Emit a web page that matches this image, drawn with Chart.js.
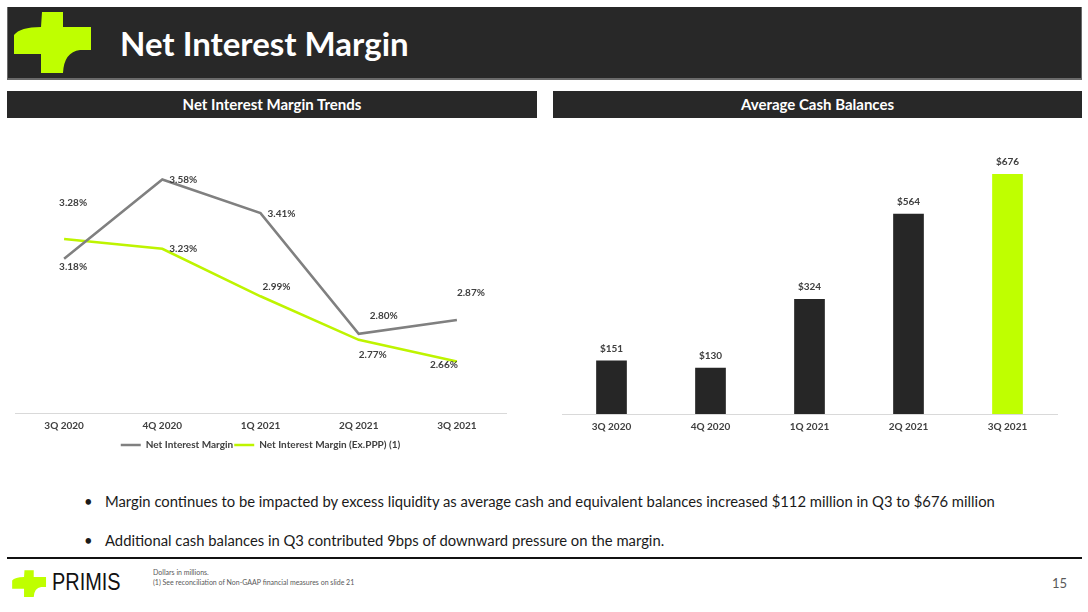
<!DOCTYPE html>
<html>
<head>
<meta charset="utf-8">
<script src="https://cdn.jsdelivr.net/npm/chart.js@4.4.0/dist/chart.umd.min.js"></script>
<style>
body{margin:0;width:1088px;height:612px;position:relative;background:#fff;font-family:Lato,"Open Sans",sans-serif;overflow:hidden}
.hdr{position:absolute;left:7px;top:7px;width:1075px;height:73px;background:#282828;border-left:1px solid #6a6a6a;border-right:1px solid #6a6a6a;border-bottom:2px solid #6a6a6a;box-sizing:border-box}
.ttl{position:absolute;left:120px;top:7px;height:73px;line-height:73px;color:#fff;font-weight:bold;font-size:33px}
.sec{position:absolute;top:91px;height:27px;line-height:27px;background:#282828;color:#fff;font-weight:bold;font-size:15px;text-align:center}
.box{position:absolute}
.bul{position:absolute;left:84px;font-size:14.8px;color:#1a1a1a;white-space:nowrap}
.bul span{display:inline-block;width:21px}
.rule{position:absolute;left:7px;top:557px;width:1075px;height:2px;background:#111}
.brand{position:absolute;left:52px;top:568px;font-family:"Liberation Sans",Arial,sans-serif;font-size:24px;color:#111;transform:scaleX(0.83);transform-origin:left center}
.note{position:absolute;left:153px;font-size:7px;color:#595959}
.pg{position:absolute;left:1052px;top:575px;font-size:13px;color:#595959}
</style>
</head>
<body>
<div class="hdr"></div>
<svg style="position:absolute;left:0;top:0" width="100" height="82">
  <path d="M42,12 L63,12 L63,27 L91,27 L91,50 L80,50 Q64,52 63,73 L41,73 L41,54 L14,54 L14,35 Q20,27 41,27 Z" fill="#bfff00"/>
</svg>
<div class="ttl">Net Interest Margin</div>

<div class="sec" style="left:7px;width:530px">Net Interest Margin Trends</div>
<div class="sec" style="left:553px;width:529px">Average Cash Balances</div>

<div class="box" style="left:7px;top:125px;width:530px;height:335px"><canvas id="nimChart"></canvas></div>
<div class="box" style="left:553px;top:125px;width:529px;height:315px"><canvas id="cashChart"></canvas></div>

<div class="bul" style="top:492px"><span>•</span>Margin continues to be impacted by excess liquidity as average cash and equivalent balances increased $112 million in Q3 to $676 million</div>
<div class="bul" style="top:531px"><span>•</span>Additional cash balances in Q3 contributed 9bps of downward pressure on the margin.</div>

<div class="rule"></div>
<svg style="position:absolute;left:0;top:560px" width="50" height="45">
  <g transform="translate(6,5) scale(0.44)">
    <path d="M42,12 L63,12 L63,27 L91,27 L91,50 L80,50 Q64,52 63,73 L41,73 L41,54 L14,54 L14,35 Q20,27 41,27 Z" fill="#bfff00"/>
  </g>
</svg>
<div class="brand">PRIMIS</div>
<div class="note" style="top:568px">Dollars in millions.</div>
<div class="note" style="top:578px">(1) See reconciliation of Non-GAAP financial measures on slide 21</div>
<div class="pg">15</div>

<script>
var quarters = ["3Q 2020", "4Q 2020", "1Q 2021", "2Q 2021", "3Q 2021"];
var nim = [3.18, 3.58, 3.41, 2.80, 2.87];
var nimExPPP = [3.28, 3.23, 2.99, 2.77, 2.66];
var cashBalances = [151, 130, 324, 564, 676];

// where each label sits from its point, like the excel labels do
var nimLabelPos = [[9, 8], [21, 0], [21, 1], [25, -18], [14, -27]];
var exLabelPos = [[9, -36], [21, 0], [16, -9], [14, 15], [-13, 3]];
var barColors = ['#262626', '#262626', '#262626', '#262626', '#bfff00'];

Chart.defaults.font.family = 'Lato, "Open Sans", sans-serif';

var valueLabels = {
    id: 'valueLabels',
    afterDatasetsDraw: function(chart, args, opts){
        var ctx = chart.ctx;
        ctx.save();
        ctx.font = 'bold 10px Lato';
        ctx.fillStyle = '#404040';
        ctx.textAlign = 'center';
        ctx.textBaseline = 'middle';
        chart.data.datasets.forEach(function(ds, i){
            var meta = chart.getDatasetMeta(i);
            meta.data.forEach(function(el, j){
                var off = ds.labelPos ? ds.labelPos[j] : [0, -12];
                ctx.fillText(opts.fmt(ds.data[j]), el.x + off[0], el.y + off[1]);
            });
        });
        ctx.restore();
    }
};

function chart1(){
    const ctx = document.getElementById('nimChart').getContext('2d');
    new Chart(ctx, {
        type: 'line',
        data: {
            labels: quarters,
            datasets: [{
                label: 'Net Interest Margin',
                data: nim,
                labelPos: nimLabelPos,
                borderColor: '#808080',
                backgroundColor: '#808080',
                borderWidth: 2.5,
                pointRadius: 0,
                tension: 0
            }, {
                label: 'Net Interest Margin (Ex.PPP) (1)',
                data: nimExPPP,
                labelPos: exLabelPos,
                borderColor: '#bef400',
                backgroundColor: '#bef400',
                borderWidth: 2.5,
                pointRadius: 0,
                tension: 0
            }]
        },
        options: {
            responsive: true,
            maintainAspectRatio: false,
            animation: false,
            layout: { padding: { left: 8, right: 31, top: 11, bottom: 0 } },
            scales: {
                x: {
                    offset: true,
                    grid: { display: false, drawTicks: false },
                    border: { color: '#d9d9d9', width: 1 },
                    ticks: { color: '#404040', font: { size: 10, weight: 'bold' }, padding: 7 }
                },
                y: { display: false, min: 2.4, max: 3.8 }
            },
            plugins: {
                legend: {
                    position: 'bottom',
                    labels: {
                        color: '#404040',
                        font: { size: 10, weight: 'bold' },
                        usePointStyle: true,
                        pointStyle: 'line',
                        pointStyleWidth: 20,
                        padding: 1
                    }
                },
                tooltip: { enabled: false },
                valueLabels: { fmt: function(v){ return v.toFixed(2) + '%'; } }
            }
        },
        plugins: [valueLabels]
    });
}
chart1()

function chart2(){
    const ctx = document.getElementById('cashChart').getContext('2d');
    new Chart(ctx, {
        type: 'bar',
        data: {
            labels: quarters,
            datasets: [{
                label: 'Average Cash Balances',
                data: cashBalances,
                backgroundColor: barColors,
                borderWidth: 0,
                barPercentage: 0.31,
                categoryPercentage: 1
            }]
        },
        options: {
            responsive: true,
            maintainAspectRatio: false,
            animation: false,
            layout: { padding: { left: 9, right: 25, top: 5, bottom: 0 } },
            scales: {
                x: {
                    grid: { display: false, drawTicks: false },
                    border: { color: '#d9d9d9', width: 1 },
                    ticks: { color: '#404040', font: { size: 10, weight: 'bold' }, padding: 7 }
                },
                y: { display: false, min: 0, max: 800 }
            },
            plugins: {
                legend: { display: false },
                tooltip: { enabled: false },
                valueLabels: { fmt: function(v){ return '$' + v; } }
            }
        },
        plugins: [valueLabels]
    });
}
chart2()
</script>
</body>
</html>
